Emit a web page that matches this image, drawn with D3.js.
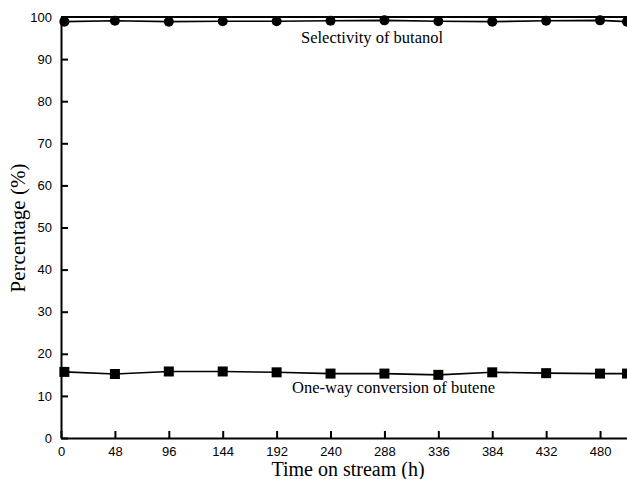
<!DOCTYPE html>
<html lang="en">
<head>
    <meta charset="UTF-8">
    <title>Time on stream</title>
    <script src="https://cdn.jsdelivr.net/npm/d3@7"></script>
    <style>
        body { margin: 0; background: #fff; }
        text.tick-label { font-family: "Liberation Sans", Arial, sans-serif; font-size: 13px; fill: #000; }
        text.axis-title { font-family: "Liberation Serif", "Times New Roman", serif; font-size: 20px; fill: #000; }
        text.note { font-family: "Liberation Serif", "Times New Roman", serif; font-size: 16.5px; fill: #000; }
    </style>
</head>
<body>
<div id="chart"></div>
<script>
    // data
    var hours = [3, 48, 96, 144, 192, 240, 288, 336, 384, 432, 480, 504];
    var selectivity = [98.9, 99.1, 98.9, 99.0, 99.0, 99.1, 99.2, 99.0, 98.9, 99.1, 99.2, 98.9];
    var conversion = [15.7, 15.2, 15.8, 15.8, 15.6, 15.3, 15.3, 15.0, 15.6, 15.4, 15.3, 15.3];
    var xTicks = [0, 48, 96, 144, 192, 240, 288, 336, 384, 432, 480];
    var yTicks = [0, 10, 20, 30, 40, 50, 60, 70, 80, 90, 100];

    const W = 627, H = 479;
    const margin = {top: 17, right: 0, bottom: 41, left: 61};

    const svg = d3.select("#chart").append("svg")
        .attr("width", W)
        .attr("height", H);

    var x = d3.scaleLinear().domain([0, 504]).range([margin.left, W - margin.right]);
    var y = d3.scaleLinear().domain([0, 100]).range([H - margin.bottom, margin.top]);

    // x axis, ticks pointing inside
    var xAxis = svg.append("g")
        .attr("transform", "translate(0," + y(0) + ")")
        .call(d3.axisBottom(x).tickValues(xTicks).tickSizeInner(-7).tickSizeOuter(0).tickPadding(9));
    xAxis.select(".domain").attr("stroke-width", 2);
    xAxis.selectAll(".tick line").attr("stroke-width", 2);
    xAxis.selectAll(".tick text").attr("class", "tick-label").attr("font-size", null).attr("font-family", null);

    // y axis
    var yAxis = svg.append("g")
        .attr("transform", "translate(" + x(0) + ",0)")
        .call(d3.axisLeft(y).tickValues(yTicks).tickSizeInner(-7).tickSizeOuter(0).tickPadding(9));
    yAxis.select(".domain").attr("stroke-width", 2);
    yAxis.selectAll(".tick line").attr("stroke-width", 2);
    yAxis.selectAll(".tick text").attr("class", "tick-label").attr("font-size", null).attr("font-family", null);

    // top frame
    svg.append("line")
        .attr("x1", x(0)).attr("x2", W)
        .attr("y1", y(100)).attr("y2", y(100))
        .attr("stroke", "#000").attr("stroke-width", 2);

    var line = d3.line()
        .x(function (d) { return x(d[0]); })
        .y(function (d) { return y(d[1]); });

    var selPts = hours.map(function (h, i) { return [h, selectivity[i]]; });
    var convPts = hours.map(function (h, i) { return [h, conversion[i]]; });

    svg.append("path").datum(selPts)
        .attr("fill", "none").attr("stroke", "#000").attr("stroke-width", 1.6)
        .attr("d", line);
    svg.selectAll("circle.sel").data(selPts).enter().append("circle")
        .attr("class", "sel")
        .attr("cx", function (d) { return x(d[0]); })
        .attr("cy", function (d) { return y(d[1]); })
        .attr("r", 5)
        .attr("fill", "#000");

    svg.append("path").datum(convPts)
        .attr("fill", "none").attr("stroke", "#000").attr("stroke-width", 1.6)
        .attr("d", line);
    svg.selectAll("rect.conv").data(convPts).enter().append("rect")
        .attr("class", "conv")
        .attr("x", function (d) { return x(d[0]) - 5; })
        .attr("y", function (d) { return y(d[1]) - 5; })
        .attr("width", 10)
        .attr("height", 10)
        .attr("fill", "#000");

    // labels
    svg.append("text").attr("class", "note")
        .attr("x", 301).attr("y", 43)
        .text("Selectivity of butanol");
    svg.append("text").attr("class", "note")
        .attr("x", 292).attr("y", 393)
        .text("One-way conversion of butene");

    svg.append("text").attr("class", "axis-title")
        .attr("x", 348).attr("y", 476)
        .style("text-anchor", "middle")
        .text("Time on stream (h)");
    svg.append("text").attr("class", "axis-title")
        .attr("transform", "translate(25,228) rotate(-90)")
        .style("font-size", "21px")
        .style("text-anchor", "middle")
        .text("Percentage (%)");
</script>
</body>
</html>
